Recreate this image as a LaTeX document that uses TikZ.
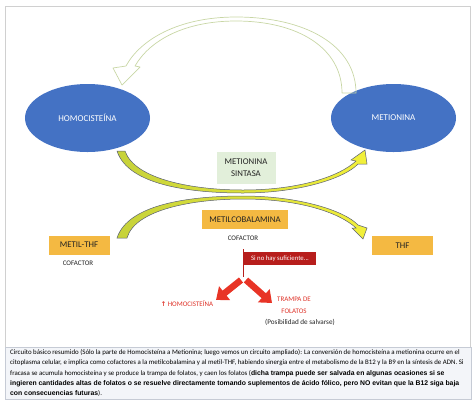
\documentclass[tikz,border=0pt]{standalone}
\usepackage{fontspec}
\setmainfont{Carlito}
\newfontfamily\arialfont{Liberation Sans}
\newfontfamily\flechafont{DejaVu Sans}
\usetikzlibrary{shapes.geometric,arrows.meta}
\definecolor{azuloffice}{RGB}{68,114,196}
\definecolor{naranja}{RGB}{244,185,66}
\definecolor{verdeclaro}{RGB}{226,239,218}
\definecolor{verdeborde}{RGB}{200,214,165}
\definecolor{amarilloizq}{RGB}{198,210,58}
\definecolor{amarilloder}{RGB}{242,240,58}
\definecolor{bordeflecha}{RGB}{90,95,115}
\definecolor{rojooscuro}{RGB}{183,30,28}
\definecolor{rojoflecha}{RGB}{232,52,38}
\definecolor{rojotexto}{RGB}{222,50,40}
\definecolor{marco}{RGB}{208,208,208}
\definecolor{fondonota}{RGB}{243,245,249}
\definecolor{bordenota}{RGB}{198,203,213}
\definecolor{texto}{RGB}{35,35,35}
\newcommand{\resalte}[1]{{\arialfont\bfseries\fontsize{6.85}{10.2}\selectfont #1}}

\begin{document}
\begin{tikzpicture}[x=1bp, y=-1bp,
  every node/.style={text=texto, inner sep=0pt},
  molecula/.style={ellipse, fill=azuloffice, minimum width=125bp, minimum height=68bp,
    text=white, font=\fontsize{9}{10}\selectfont},
  cofactor/.style={fill=naranja, minimum width=61bp, minimum height=19bp,
    font=\fontsize{8.8}{10}\selectfont},
  pie/.style={font=\fontsize{7}{8}\selectfont},
  rama/.style={rojoflecha, line width=6.5bp, -{Triangle[width=17bp,length=11bp]}},
  banda/.style={left color=amarilloizq, right color=amarilloder, draw=bordeflecha, line width=0.5bp}]
  \useasboundingbox (0,0) rectangle (474,405);
  % marco superior
  \draw[marco, line width=1bp] (5,6) rectangle (470,347);
  % Homociste\'ina y Metionina
  \node[molecula] (hcy) at (87.5,118) {HOMOCISTEÍNA};
  \node[molecula] (met) at (393.5,118) {METIONINA};
  % flecha hueca de vuelta (arriba)
  \draw[verdeborde, line width=0.7bp, line join=round]
    (356,93) .. controls (356,45) and (305,17) .. (236,17)
    .. controls (178,17) and (140,40) .. (126,66) -- (113,68) -- (122,85)
    -- (140,67) -- (135,66) .. controls (150,40) and (185,21) .. (236,21)
    .. controls (298,21) and (342,48) .. (342,93) -- cycle;
  % enzima
  \node[fill=verdeclaro, minimum width=59bp, minimum height=32bp, align=center,
    font=\fontsize{8.8}{12}\selectfont] (sintasa) at (246,167.5) {METIONINA\\SINTASA};
  % flechas amarillas que se cruzan
  \draw[banda] (117,151) .. controls (128,185) and (190,193) .. (243,193)
    .. controls (300,193) and (345,178) .. (358,164) -- (367,164) -- (365,150)
    -- (351,160) -- (356,161) .. controls (340,176) and (300,190) .. (243,190)
    .. controls (195,190) and (135,180) .. (125,151) -- cycle;
  \draw[banda] (117,238) .. controls (128,204) and (190,196) .. (243,196)
    .. controls (300,196) and (345,211) .. (358,225) -- (367,228) -- (363,239)
    -- (352,228) -- (356,228) .. controls (340,213) and (300,199) .. (243,199)
    .. controls (195,199) and (135,209) .. (127,238) -- cycle;
  % cofactores
  \node[cofactor, minimum width=86bp] (mcbl) at (245,219.5) {METILCOBALAMINA};
  \node[pie] (cof1) at (243,238) {COFACTOR};
  \node[cofactor] (mthf) at (79,245) {METIL-THF};
  \node[pie] (cof2) at (78,263) {COFACTOR};
  \node[cofactor] (thf) at (402.5,245.5) {THF};
  % deficiencia
  \coordinate (arriba) at (243,249);
  \coordinate (abajo) at (243,277);
  \draw[rojooscuro, line width=0.8bp] (arriba) -- (abajo);
  \node[fill=rojooscuro, text=white, minimum width=72bp, minimum height=13bp,
    font=\fontsize{6.8}{8}\selectfont] (aviso) at (280,258.5) {Si no hay suficiente...};
  \coordinate (izq) at (241,280);
  \coordinate (der) at (246,280);
  \coordinate (pizq) at (216,300);
  \coordinate (pder) at (272,303);
  \draw[rama] (izq) -- (pizq);
  \draw[rama] (der) -- (pder);
  % consecuencias
  \node[pie, text=rojotexto] (subida) at (187,304) {{\flechafont\bfseries\fontsize{6.5}{8}\selectfont ↑} HOMOCISTEÍNA};
  \node[pie, text=rojotexto, align=center, font=\fontsize{7}{12}\selectfont] (trampa) at (294,305) {TRAMPA DE\\FOLATOS};
  \node[font=\fontsize{7.2}{8}\selectfont] (salvar) at (300,322) {(Posibilidad de salvarse)};
  % pie de figura
  \draw[bordenota, fill=fondonota, line width=0.8bp] (5,347) rectangle (471,399);
  \node[anchor=north west, align=left, text=black, font=\fontsize{6.9}{10.2}\selectfont] (nota) at (10,349.5)
    {Circuito básico resumido (Sólo la parte de Homocisteína a Metionina; luego vemos un circuito ampliado): La conversión de homocisteína a metionina ocurre en el\\
     citoplasma celular, e implica como cofactores a la metilcobalamina y al metil-THF, habiendo sinergia entre el metabolismo de la B12 y la B9 en la síntesis de ADN. Si\\
     fracasa se acumula homocisteína y se produce la trampa de folatos, y caen los folatos (\resalte{dicha trampa puede ser salvada en algunas ocasiones si se}\\
     \resalte{ingieren cantidades altas de folatos o se resuelve directamente tomando suplementos de ácido fólico, pero NO evitan que la B12 siga baja}\\
     \resalte{con consecuencias futuras}).};
\end{tikzpicture}
\end{document}
